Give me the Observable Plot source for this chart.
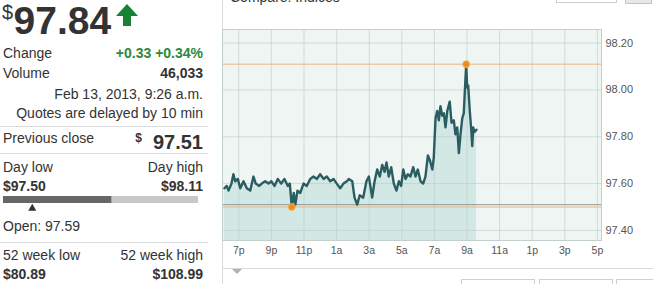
<!DOCTYPE html>
<html><head><meta charset="utf-8">
<script src="https://cdn.jsdelivr.net/npm/d3@7"></script>
<script src="https://cdn.jsdelivr.net/npm/@observablehq/plot@0.6"></script>
<style>
html,body{margin:0;padding:0;background:#fff}
body{width:653px;height:284px;overflow:hidden;position:relative;font-family:"Liberation Sans",Arial,sans-serif;color:#333}
.a{position:absolute;white-space:nowrap;line-height:1}
.n{font-size:14px}
.b{font-size:14px;font-weight:bold}
.r{right:450px;text-align:right}
.hl{position:absolute;left:0;width:208px;height:1px;background:#dcdcdc}
</style></head><body>
<div id="page"></div>
<script>
// ---- data ----
const hours = [0.12,0.26,0.37,0.55,0.67,0.78,0.94,1.09,1.29,1.49,1.70,1.90,2.04,2.25,2.41,2.62,2.82,2.99,3.19,3.39,3.60,3.80,4.01,4.13,4.25,4.37,4.47,4.60,4.77,4.97,5.17,5.38,5.58,5.79,5.99,6.20,6.40,6.61,6.81,7.01,7.22,7.42,7.63,7.75,7.96,8.10,8.26,8.42,8.63,8.83,8.98,9.18,9.33,9.49,9.65,9.80,9.94,10.06,10.20,10.35,10.51,10.67,10.82,10.96,11.09,11.23,11.37,11.53,11.70,11.84,11.98,12.15,12.31,12.45,12.60,12.72,12.87,12.96,13.07,13.17,13.27,13.37,13.48,13.58,13.68,13.79,13.94,14.05,14.19,14.29,14.40,14.50,14.60,14.71,14.80,14.95,15.01,15.07,15.17,15.26,15.32,15.38,15.46,15.58];
const prices = [97.58,97.59,97.57,97.60,97.64,97.61,97.62,97.58,97.61,97.58,97.57,97.63,97.60,97.59,97.60,97.61,97.60,97.61,97.59,97.62,97.60,97.62,97.59,97.60,97.50,97.56,97.51,97.57,97.56,97.60,97.59,97.62,97.63,97.62,97.64,97.62,97.63,97.61,97.62,97.60,97.58,97.60,97.61,97.62,97.61,97.54,97.51,97.55,97.54,97.61,97.63,97.54,97.61,97.66,97.63,97.68,97.65,97.69,97.63,97.67,97.60,97.57,97.61,97.59,97.66,97.62,97.64,97.63,97.67,97.63,97.66,97.61,97.60,97.63,97.72,97.70,97.66,97.71,97.88,97.91,97.87,97.93,97.89,97.90,97.84,97.91,97.95,97.86,97.87,97.81,97.84,97.73,97.81,97.88,97.90,98.11,98.01,98.02,97.91,97.83,97.76,97.84,97.82,97.83];
const tickHours = [1,3,5,7,9,11,13,15,17,19,21,23];
const tickLabels = ["7p","9p","11p","1a","3a","5a","7a","9a","11a","1p","3p","5p"];
const yTicks = [97.40,97.60,97.80,98.00,98.20];
const dayLow = 97.50, dayHigh = 98.11, prevClose = 97.51, openPrice = 97.59, lastPrice = 97.84;
const statLabels = ["Change","Volume","Previous close","Day low","Day high","Open: 97.59","52 week low","52 week high"];
const statValues = ["+0.33 +0.34%","46,033","97.51","$97.50","$98.11","$80.89","$108.99"];

// ---- static page text ----
const page = document.getElementById("page");
function el(html){ page.insertAdjacentHTML("beforeend", html); }
el(`<div class="a" style="left:2px;top:1.5px;font-size:20px">$</div>`);
el(`<div class="a" style="left:13.5px;top:0.5px;font-size:39px;font-weight:bold">${lastPrice.toFixed(2)}</div>`);
el(`<svg class="a" style="left:115px;top:3px" width="24" height="24"><polygon points="12,1 23,13 16,13 16,23 8,23 8,13 1,13" fill="#178234"/></svg>`);
el(`<div class="a n" style="left:3px;top:46.2px">${statLabels[0]}</div>`);
el(`<div class="a b r" style="top:46px;color:#2c8a3c">${statValues[0]}</div>`);
el(`<div class="a n" style="left:3px;top:66px">${statLabels[1]}</div>`);
el(`<div class="a b r" style="top:66px">${statValues[1]}</div>`);
el(`<div class="a n r" style="top:86.5px">Feb 13, 2013, 9:26 a.m.</div>`);
el(`<div class="a n r" style="top:105.5px">Quotes are delayed by 10 min</div>`);
el(`<div class="hl" style="top:126px"></div>`);
el(`<div class="a n" style="left:3px;top:131.2px">${statLabels[2]}</div>`);
el(`<div class="a r" style="top:132px;font-size:12px;font-weight:bold;right:511px">$</div>`);
el(`<div class="a r" style="top:131.5px;font-size:20px;font-weight:bold">${statValues[2]}</div>`);
el(`<div class="hl" style="top:153px"></div>`);
el(`<div class="a n" style="left:3px;top:160.1px">${statLabels[3]}</div>`);
el(`<div class="a n r" style="top:160.1px">${statLabels[4]}</div>`);
el(`<div class="a b" style="left:3px;top:179px">${statValues[3]}</div>`);
el(`<div class="a b r" style="top:179px">${statValues[4]}</div>`);
el(`<div id="range" class="a" style="left:3px;top:196px"></div>`);
el(`<div class="a n" style="left:3px;top:218.8px">${statLabels[5]}</div>`);
el(`<div class="hl" style="top:242px"></div>`);
el(`<div class="a n" style="left:3px;top:248.2px">${statLabels[6]}</div>`);
el(`<div class="a n r" style="top:248.2px">${statLabels[7]}</div>`);
el(`<div class="a b" style="left:3px;top:266.6px">${statValues[5]}</div>`);
el(`<div class="a b r" style="top:266.6px">${statValues[6]}</div>`);
// right panel chrome
el(`<div class="a" style="left:222px;top:0;width:1px;height:284px;background:#dadada"></div>`);
el(`<div class="a n" style="left:230px;top:-9.8px;color:#333">Compare: Indices</div>`);
el(`<div class="a" style="left:556px;top:-20px;width:59px;height:21px;border:1px solid #cfcfcf"></div>`);
el(`<div class="a" style="left:625px;top:-20px;width:25px;height:22px;border:1px solid #c4c4c4;background:#e4e8e8"></div>`);
el(`<div class="a" style="left:222px;top:268px;width:431px;height:1px;background:#dadada"></div>`);
el(`<svg class="a" style="left:232px;top:269px" width="11" height="6"><polygon points="0,0 10,0 5,5" fill="#aab4b8"/></svg>`);
el(`<div class="a" style="left:461px;top:279px;width:72px;height:20px;border:1px solid #cfcfcf"></div>`);
el(`<div class="a" style="left:539px;top:279px;width:72px;height:20px;border:1px solid #cfcfcf"></div>`);
el(`<div class="a" style="left:616px;top:279px;width:40px;height:20px;border:1px solid #cfcfcf"></div>`);

// ---- day range bar ----
const rangePlot = Plot.plot({
  width: 195, height: 15, margin: 0,
  style: {background: "transparent", overflow: "visible"},
  x: {domain: [dayLow, dayHigh], axis: null},
  marks: [
    Plot.barX([{a: dayLow, b: lastPrice}], {x1: "a", x2: "b", fill: "#676767", insetBottom: 8}),
    Plot.barX([{a: lastPrice, b: dayHigh}], {x1: "a", x2: "b", fill: "#c8c8c8", insetBottom: 8}),
    Plot.dot([openPrice], {x: d => d, symbol: "triangle", r: 3, fill: "#333", frameAnchor: "bottom", dy: -3})
  ]
});
document.getElementById("range").appendChild(rangePlot);

// ---- main chart ----
const t0 = Date.UTC(2013, 1, 12, 18);
const toDate = h => new Date(t0 + h * 3600e3);
const data = hours.map((h, i) => ({t: toDate(h), price: prices[i]}));
const tickDates = tickHours.map(toDate);
const yDomain = [97.357, 98.258];
const hi = d3.greatest(data, d => d.price), lo = d3.least(data, d => d.price);

const chart = Plot.plot({
  width: 432, height: 233, marginLeft: 1, marginRight: 52, marginTop: 1, marginBottom: 21,
  style: {fontFamily: "'Liberation Sans', Arial, sans-serif", fontSize: "11px", color: "#555", background: "transparent", overflow: "visible"},
  x: {type: "utc", domain: [toDate(0), toDate(23.25)], ticks: tickDates, label: null,
      tickFormat: d => tickLabels[tickDates.findIndex(t => +t === +d)], tickSize: 0, tickPadding: 6},
  y: {domain: yDomain, axis: "right", ticks: yTicks, label: null, tickFormat: d3.format(".2f"), tickSize: 0, tickPadding: 4},
  marks: [
    Plot.frame({fill: "#eef5f2"}),
    Plot.areaY(data, {x: "t", y1: yDomain[0], y2: "price", fill: "#d3e8e4"}),
    Plot.ruleX(tickDates, {stroke: "#b8c8c4", strokeOpacity: 0.55}),
    Plot.ruleY(yTicks, {stroke: "#b8c8c4", strokeOpacity: 0.55}),
    Plot.ruleY([dayHigh, dayLow], {stroke: "#f0b47e"}),
    Plot.ruleY([prevClose], {stroke: "#8b9a99"}),
    Plot.frame({stroke: "#c3cfcb"}),
    Plot.lineY(data, {x: "t", y: "price", stroke: "#2a5d62", strokeWidth: 2.4, strokeLinejoin: "round"}),
    Plot.dot([hi, lo], {x: "t", y: "price", r: 3.5, fill: "#ec8e1c", stroke: "#f4b56a", strokeWidth: 0.8})
  ]
});
chart.style.position = "absolute";
chart.style.left = "221px";
chart.style.top = "28px";
chart.querySelectorAll('g[aria-label^="x-axis"] text, g[aria-label^="x-axis"]').forEach(n => n.style.fontSize = "10.5px");
page.appendChild(chart);
</script>
</body></html>
